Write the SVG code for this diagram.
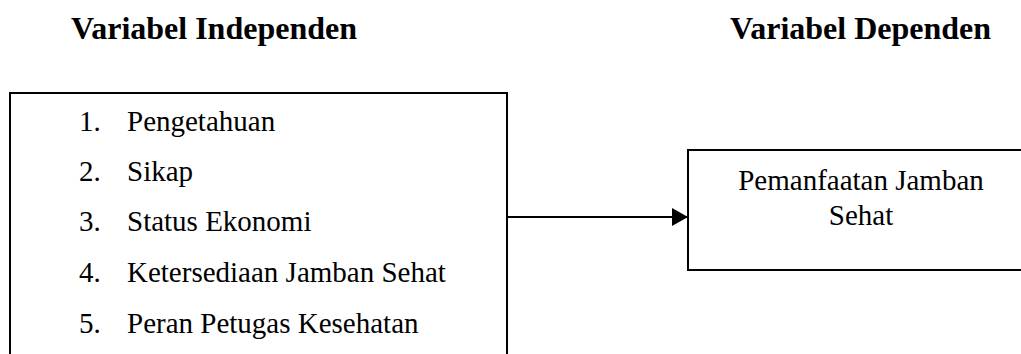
<svg xmlns="http://www.w3.org/2000/svg" width="1021" height="354" viewBox="0 0 1021 354">
<style>
.t{font-family:"Liberation Serif","Times New Roman",serif;fill:#000}
.h{font-size:32px;font-weight:bold}
.b{font-size:29px}
.box{fill:#fff;stroke:#000;stroke-width:2}
</style>
<defs>
<marker id="arr" markerWidth="16" markerHeight="18" refX="15" refY="9" orient="auto" markerUnits="userSpaceOnUse">
<path d="M0,0 L16,9 L0,18 Z" fill="#000"/>
</marker>
</defs>
<rect width="1021" height="354" fill="#fff"/>
<g id="title-independen"><text class="t h" x="71" y="39">Variabel Independen</text></g>
<g id="title-dependen"><text class="t h" x="730" y="39">Variabel Dependen</text></g>
<g id="node-independen">
<rect class="box" x="10" y="93" width="497" height="280"/>
<text class="t b" x="79" y="131">1.</text><text class="t b" x="127" y="131">Pengetahuan</text>
<text class="t b" x="79" y="181">2.</text><text class="t b" x="127" y="181">Sikap</text>
<text class="t b" x="79" y="231">3.</text><text class="t b" x="127" y="231">Status Ekonomi</text>
<text class="t b" x="79" y="282">4.</text><text class="t b" x="127" y="282">Ketersediaan Jamban Sehat</text>
<text class="t b" x="79" y="333">5.</text><text class="t b" x="127" y="333">Peran Petugas Kesehatan</text>
</g>
<g id="node-dependen">
<rect class="box" x="688" y="150" width="345" height="120"/>
<text class="t b" x="861" y="190" text-anchor="middle">Pemanfaatan Jamban</text>
<text class="t b" x="861" y="225" text-anchor="middle">Sehat</text>
</g>
<g id="connectors">
<line x1="507" y1="217" x2="687" y2="217" stroke="#000" stroke-width="2" marker-end="url(#arr)"/>
</g>
</svg>
